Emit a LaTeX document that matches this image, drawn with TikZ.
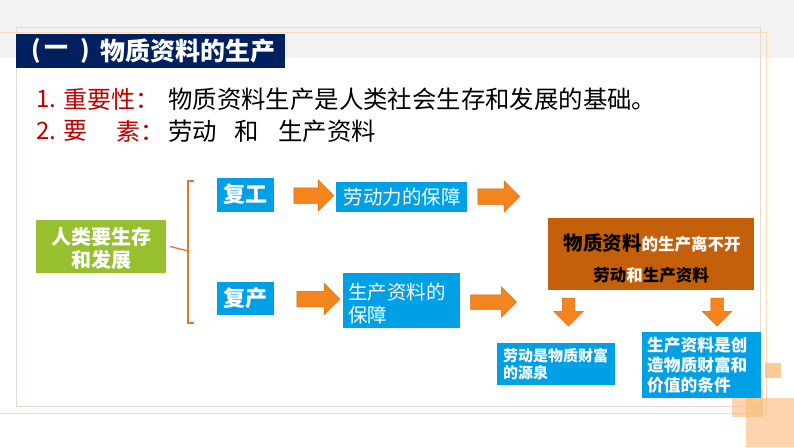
\documentclass[tikz,border=0pt]{standalone}
\usepackage{fontspec}
\setmainfont{Noto Sans CJK SC}
\usetikzlibrary{shapes.arrows}
\definecolor{navy}{RGB}{0,32,96}
\definecolor{cred}{RGB}{192,0,0}
\definecolor{cblue}{RGB}{0,160,230}
\definecolor{cgreen}{RGB}{150,192,45}
\definecolor{cbrown}{RGB}{197,96,10}
\definecolor{corange}{RGB}{243,132,30}
\definecolor{corangedk}{RGB}{215,105,20}
\definecolor{cbrace}{RGB}{228,120,40}
\definecolor{bandgray}{RGB}{242,242,242}
\definecolor{frameA}{RGB}{228,218,205}
\definecolor{frameB}{RGB}{248,218,185}
\definecolor{csq}{RGB}{250,185,120}
\newcommand{\fs}[1]{\fontsize{#1}{#1}\selectfont}
\begin{document}
\begin{tikzpicture}[x=1pt,y=-1pt,
  boxb/.style={fill=cblue, inner sep=0pt},
  txt/.style={inner sep=0pt, text=white, font=\bfseries},
  rarrow/.style={single arrow, fill=corange, draw=corangedk, line width=0.5pt,
     inner xsep=0pt, single arrow head extend=8pt},
  darrow/.style={single arrow, fill=corange, draw=corangedk, line width=0.5pt,
     shape border rotate=270, inner ysep=0pt, single arrow head extend=8.5pt},
  bracestyle/.style={draw=cbrace, line width=1.3pt}
]
\useasboundingbox (0,0) rectangle (794,447);
% background
\fill[white] (0,0) rectangle (794,447);
\fill[bandgray] (0,0) rectangle (794,58);
\draw[frameA, line width=0.8pt] (16,27) rectangle (760,406);
\draw[frameB, line width=0.8pt] (0,32) -- (766,32) -- (766,413) -- (0,413);
% decorative squares
\fill[csq, opacity=0.75] (765,363) rectangle (781,378);
\fill[csq, opacity=0.6] (732,386) rectangle (763,417);
\fill[csq, opacity=0.6] (746,398) rectangle (794,447);
% title bar
\node[fill=navy, minimum width=269pt, minimum height=34pt, inner sep=0pt] (title) at (150.5,51) {};
\node[txt, anchor=center] (tp1) at (36,51) {\fs{24}(};
\node[txt, anchor=center] (tp2) at (56,51) {\fs{24}一};
\node[txt, anchor=center] (tp3) at (85,51) {\fs{24})};
\node[txt, anchor=west] (tt) at (100,51) {\fs{25}物质资料的生产};
% lines of text
\node[inner sep=0pt, anchor=west, text=cred] (n1) at (36,99) {\fs{24}1.};
\node[inner sep=0pt, anchor=west, text=cred] (l1) at (63,99) {\fs{24}重要性：};
\node[inner sep=0pt, anchor=west] (t1) at (168,99) {\fs{24.4}物质资料生产是人类社会生存和发展的基础。};
\node[inner sep=0pt, anchor=west, text=cred] (n2) at (36,131) {\fs{24}2.};
\node[inner sep=0pt, anchor=west, text=cred] (l2a) at (63,131) {\fs{24}要};
\node[inner sep=0pt, anchor=west, text=cred] (l2b) at (116,131) {\fs{24}素：};
\node[inner sep=0pt, anchor=west] (t2) at (168,131) {\fs{24.4}劳动\hspace{18pt}和\hspace{19pt}生产资料};
% green box
\node[fill=cgreen, minimum width=130pt, minimum height=53pt, inner sep=0pt] (green) at (101,246.5) {};
\node[txt] (g1) at (101,236.5) {\fs{20}人类要生存};
\node[txt] (g2) at (101,259.5) {\fs{20}和发展};
% brace
\coordinate (bmid) at (188,251);
\coordinate (btop) at (188,181);
\coordinate (bbot) at (188,323);
\coordinate (btopr) at (194,181);
\coordinate (bbotr) at (194,323);
\draw[bracestyle] ([xshift=4pt]green.east) -- (bmid);
\draw[bracestyle] (btopr) -- (btop) -- (bbot) -- (bbotr);
% blue boxes
\node[boxb, minimum width=57pt, minimum height=34pt] (fugong) at (245.5,194.5) {};
\node[txt] (fugongt) at (245.5,194) {\fs{22}复工};
\node[boxb, minimum width=57pt, minimum height=33pt] (fuchan) at (245.5,298.5) {};
\node[txt] (fuchant) at (245.5,298) {\fs{22}复产};
\node[boxb, minimum width=131pt, minimum height=30pt] (ldl) at (401.5,197) {};
\node[inner sep=0pt, text=white] (ldlt) at (402,197) {\fs{19.5}劳动力的保障};
\node[boxb, minimum width=117pt, minimum height=55pt] (sczl) at (401.5,300.5) {};
\node[inner sep=0pt, text=white, anchor=west] (sczl1) at (348,292) {\fs{19.5}生产资料的};
\node[inner sep=0pt, text=white, anchor=west] (sczl2) at (348,315) {\fs{19.5}保障};
% arrows
\node[rarrow, minimum height=40pt, inner ysep=7.5pt] (a1) at (310,195.5) {};
\node[rarrow, minimum height=42pt, inner ysep=7.5pt] (a2) at (495,196.5) {};
\node[rarrow, minimum height=43pt, inner ysep=7.5pt] (a3) at (314.5,299) {};
\node[rarrow, minimum height=46pt, inner ysep=7pt] (a4) at (490,302) {};
% brown box
\node[fill=cbrown, minimum width=206pt, minimum height=72pt, inner sep=0pt] (brown) at (651,254) {};
\node[inner sep=0pt, font=\bfseries] (br1) at (652,243) {\fs{19.5}物质资料{\color{white}\fs{16.5}的生产离不开}};
\node[inner sep=0pt, font=\bfseries] (br2) at (651,275) {\fs{16.5}劳动{\color{white}和}生产资料};
% down arrows
\node[darrow, minimum height=28pt, inner xsep=6pt] (d1) at (568.5,309) {};
\node[darrow, minimum height=28pt, inner xsep=6pt] (d2) at (717,309) {};
% bottom boxes
\node[boxb, minimum width=118pt, minimum height=42pt] (ld) at (556,364) {};
\node[txt, anchor=west] (ld1) at (503,356) {\fs{15}劳动是物质财富};
\node[txt, anchor=west] (ld2) at (503,373) {\fs{15}的源泉};
\node[boxb, minimum width=119pt, minimum height=66pt] (sc) at (701.5,365) {};
\node[txt, anchor=west] (sc1) at (647,345) {\fs{16.7}生产资料是创};
\node[txt, anchor=west] (sc2) at (647,365) {\fs{16.7}造物质财富和};
\node[txt, anchor=west] (sc3) at (647,385) {\fs{16.7}价值的条件};
\end{tikzpicture}
\end{document}
